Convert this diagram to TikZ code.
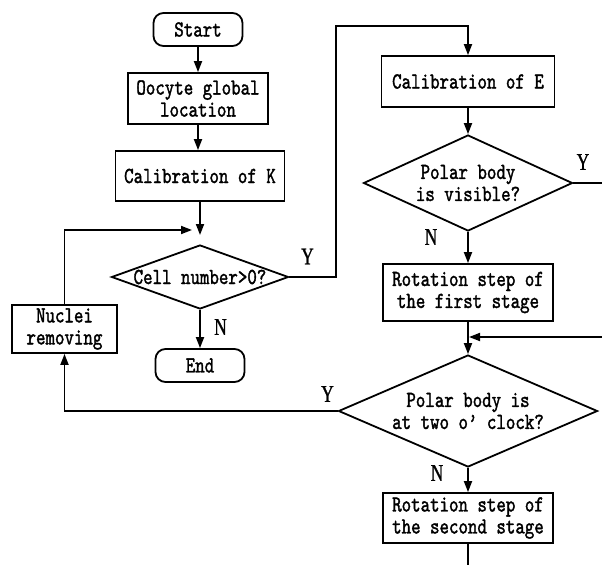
\documentclass[tikz,border=0pt]{standalone}
\usepackage{fontspec}
\setmainfont{Liberation Serif}
\setmonofont{lmmono10-regular.otf}[FakeStretch=0.785,FakeBold=1.5]
\newfontfamily\ynfont{Liberation Serif}[FakeStretch=0.72,FakeBold=1]
\usetikzlibrary{shapes.geometric,arrows.meta}

\begin{document}
\begin{tikzpicture}[x=1pt, y=-1pt,
		box/.style={draw, line width=1.8pt, align=center, inner sep=0pt, font=\ttfamily\fontsize{23}{22}\selectfont},
		term/.style={box, rounded corners=10pt, minimum width=89pt, minimum height=33pt},
		task/.style={box, rectangle},
		test/.style={box, diamond},
		flow/.style={line width=1.8pt, -{Triangle[length=11pt,width=8pt]}},
		wire/.style={line width=1.8pt},
		yn/.style={font=\ynfont\fontsize{24}{24}\selectfont}]
			%%%%% START %%%%%
			
			\useasboundingbox (0,0) rectangle (602,565);
			
			\node[term] (start) at (198,29.5) {Start};
			\node[task, minimum width=140pt, minimum height=51pt] (locate) at (198,98.5) {Oocyte global\\location};
			\node[task, minimum width=169pt, minimum height=50pt] (calK) at (200,176) {Calibration of K};
			\node[test, minimum width=177pt, minimum height=64pt, aspect=2.77] (cells) at (200,277) {Cell number>0?};
			\node[term] (end) at (200,365.5) {End};
			\node[task, minimum width=105pt, minimum height=48pt] (nuclei) at (64.5,329) {Nuclei\\removing};
			
			\node[task, minimum width=173pt, minimum height=51pt] (calE) at (468,81.5) {Calibration of E};
			\node[test, minimum width=209pt, minimum height=96pt, aspect=2.18] (polar1) at (468,183) {Polar body\\is visible?};
			\node[task, minimum width=170pt, minimum height=57pt] (rot1) at (468,292.5) {Rotation step of\\the first stage};
			\node[test, minimum width=259pt, minimum height=112pt, aspect=2.31] (polar2) at (468,411) {Polar body is\\at two o’ clock?};
			\node[task, minimum width=170pt, minimum height=50pt] (rot2) at (468,518) {Rotation step of\\the second stage};
			
			\coordinate (merge) at (200,235);
			\coordinate (back) at (192,230);
			\coordinate (yturn) at (336,26);
			\coordinate (vis) at (602,183);
			\coordinate (loopin) at (602,337);
			\coordinate (join) at (469,337);
			\coordinate (down) at (468,565);
			
			\draw[flow] (start.south) -- (locate.north);
			\draw[flow] (locate.south) -- (locate.south |- calK.north);
			\draw[flow] (calK.south) -- (merge);
			\draw[flow] (nuclei.north) |- (back);
			\draw[flow] (cells.south) -- (end.north);
			\draw[flow] (cells.east) -| (yturn) -| (calE.north);
			
			\draw[flow] (calE.south) -- (polar1.north);
			\draw[wire] (polar1.east) -- (vis);
			\draw[flow] (polar1.south) -- (rot1.north);
			\draw[flow] (rot1.south) -- (polar2.north);
			\draw[flow] (loopin) -- (join);
			\draw[flow] (polar2.west) -| (nuclei.south);
			\draw[flow] (polar2.south) -- (rot2.north);
			\draw[wire] (rot2.south) -- (down);
			
			\node[yn] (yCells) at (307.5,256.5) {Y};
			\node[yn] (nCells) at (220.5,327) {N};
			\node[yn] (yVis) at (583,162) {Y};
			\node[yn] (nVis) at (431,237) {N};
			\node[yn] (yClock) at (327.5,394) {Y};
			\node[yn] (nClock) at (437,473) {N};
			
			%%%%% END %%%%%
		\end{tikzpicture}
\end{document}
